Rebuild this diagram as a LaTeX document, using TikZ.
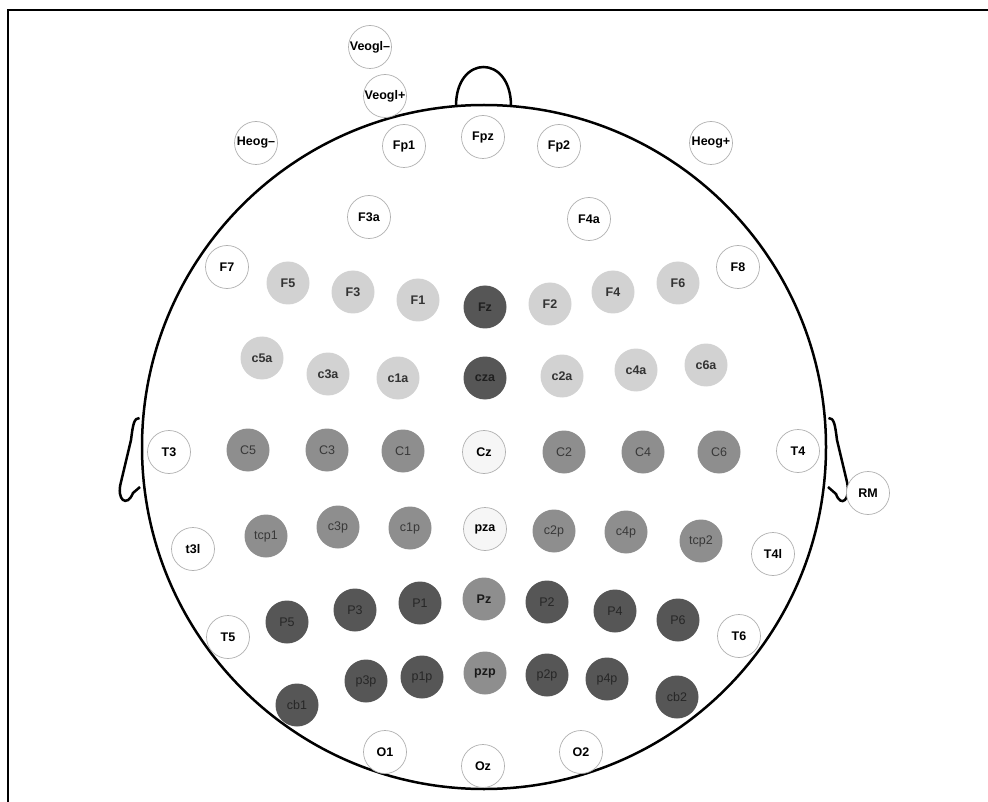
\documentclass[tikz,border=0pt]{standalone}
\usepackage{fontspec}
\newfontfamily\labfont[Ligatures=TeX]{Liberation Sans}
\definecolor{cLight}{HTML}{D2D2D2}
\definecolor{cMid}{HTML}{8E8E8E}
\definecolor{cDark}{HTML}{565656}
\definecolor{cZero}{HTML}{F6F6F6}
\definecolor{cRim}{HTML}{B0B0B0}
\tikzset{
  elec/.style={circle, minimum size=43pt, inner sep=0pt, line width=0.7pt,
    font=\labfont\fontsize{12.5}{14}\selectfont},
  boldlab/.style={font=\labfont\bfseries\fontsize{12.5}{14}\selectfont},
  ew/.style={elec, boldlab, fill=white, draw=cRim, text=black},
  ez/.style={elec, boldlab, fill=cZero, draw=cRim, text=black},
  el/.style={elec, boldlab, fill=cLight, draw=none, text=black!80},
  em/.style={elec, fill=cMid, draw=none, text=black!78},
  emb/.style={elec, boldlab, fill=cMid, draw=none, text=black!90},
  ed/.style={elec, fill=cDark, draw=none, text=black!85},
  edb/.style={elec, boldlab, fill=cDark, draw=none, text=black!88},
  headline/.style={line width=2.5pt, black},
}
\begin{document}
\begin{tikzpicture}[x=1pt, y=-1pt]
\useasboundingbox (0,0) rectangle (988,802);
% frame
\draw[line width=2.2pt] (7.7,802) -- (7.7,10.2) -- (988,10.2);
% head
\draw[headline] (484,447) circle[radius=342pt];
% nose
\draw[headline] (456,106) .. controls (456,54) and (511,54) .. (511,106);
% left ear
\draw[headline] (139.5,418) .. controls (134,418) and (133,424) .. (131,440)
  -- (121,482) .. controls (116,500) and (127,508) .. (133,493) -- (140,487);
% right ear
\draw[headline] (828.5,418) .. controls (834,418) and (835,424) .. (837,440)
  -- (847,482) .. controls (851,500) and (841,508) .. (836,494) -- (828,487);
% electrodes
\node[ew] (veogm) at (370,47) {Veogl–};
\node[ew] (veogp) at (385,96) {Veogl+};
\node[ew] (heogm) at (256,143) {Heog–};
\node[ew] (fp1) at (404,146) {Fp1};
\node[ew] (fpz) at (483,137) {Fpz};
\node[ew] (fp2) at (559,146) {Fp2};
\node[ew] (heogp) at (711,143) {Heog+};
\node[ew] (f3a) at (369,217) {F3a};
\node[ew] (f4a) at (589,219) {F4a};
\node[ew] (f7) at (227,267) {F7};
\node[el] (f5) at (288,283) {F5};
\node[el] (f3) at (353,292) {F3};
\node[el] (f1) at (418,300) {F1};
\node[edb] (fz) at (485,307) {Fz};
\node[el] (f2) at (550,304) {F2};
\node[el] (f4) at (613,292) {F4};
\node[el] (f6) at (678,283) {F6};
\node[ew] (f8) at (738,267) {F8};
\node[el] (c5a) at (262,358) {c5a};
\node[el] (c3a) at (328,374) {c3a};
\node[el] (c1a) at (398,378) {c1a};
\node[edb] (cza) at (485,378) {cza};
\node[el] (c2a) at (562,376) {c2a};
\node[el] (c4a) at (636,370) {c4a};
\node[el] (c6a) at (706,365) {c6a};
\node[ew] (t3) at (169,452) {T3};
\node[em] (c5) at (248,450) {C5};
\node[em] (c3) at (327,450) {C3};
\node[em] (c1) at (403,451) {C1};
\node[ez] (cz) at (484,452) {Cz};
\node[em] (c2) at (564,452) {C2};
\node[em] (c4) at (643,452) {C4};
\node[em] (c6) at (719,452) {C6};
\node[ew] (t4) at (798,451) {T4};
\node[ew] (rm) at (868,493) {RM};
\node[ew] (t3l) at (193,549) {t3l};
\node[em] (tcp1) at (266,536) {tcp1};
\node[em] (c3p) at (338,527) {c3p};
\node[em] (c1p) at (410,528) {c1p};
\node[ez] (pza) at (485,529) {pza};
\node[em] (c2p) at (554,531) {c2p};
\node[em] (c4p) at (626,532) {c4p};
\node[em] (tcp2) at (701,541) {tcp2};
\node[ew] (t4l) at (773,554) {T4l};
\node[ew] (t5) at (228,637) {T5};
\node[ed] (p5) at (287,622) {P5};
\node[ed] (p3) at (355,610) {P3};
\node[ed] (p1) at (420,603) {P1};
\node[emb] (pz) at (484,599) {Pz};
\node[ed] (p2) at (547,602) {P2};
\node[ed] (p4) at (615,611) {P4};
\node[ed] (p6) at (678,620) {P6};
\node[ew] (t6) at (739,636) {T6};
\node[ed] (cb1) at (297,705) {cb1};
\node[ed] (p3p) at (366,681) {p3p};
\node[ed] (p1p) at (422,677) {p1p};
\node[emb] (pzp) at (485,673) {pzp};
\node[ed] (p2p) at (547,675) {p2p};
\node[ed] (p4p) at (607,679) {p4p};
\node[ed] (cb2) at (677,697) {cb2};
\node[ew] (o1) at (385,752) {O1};
\node[ew] (oz) at (483,766) {Oz};
\node[ew] (o2) at (581,752) {O2};
\end{tikzpicture}
\end{document}
